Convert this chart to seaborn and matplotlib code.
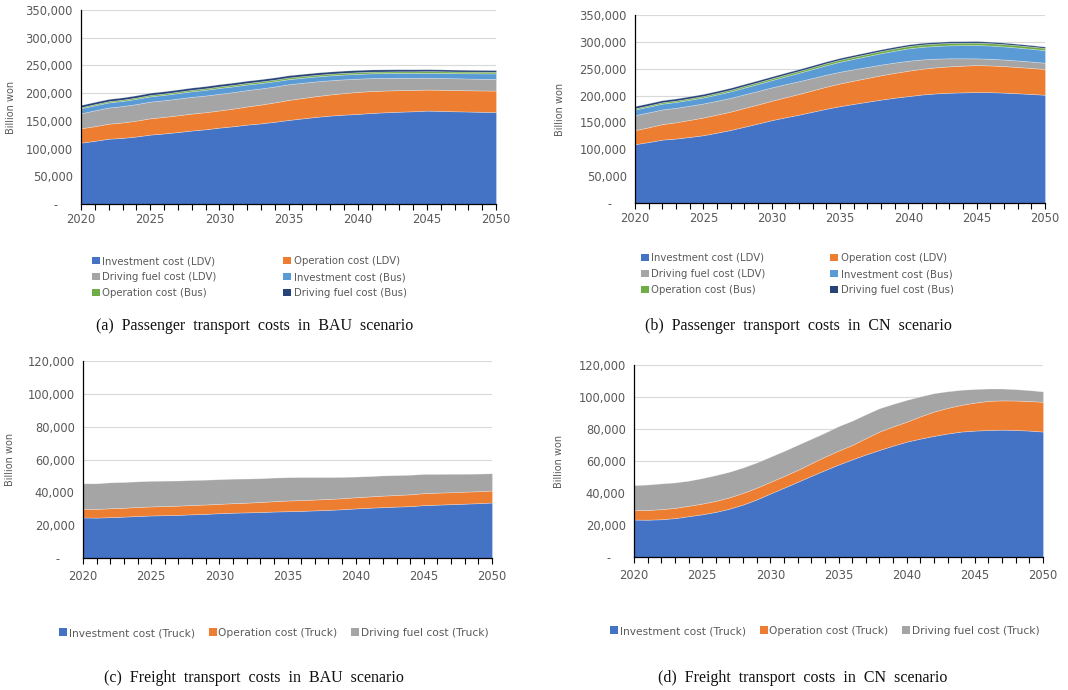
import numpy as np
import matplotlib
matplotlib.use("Agg")
import matplotlib.pyplot as plt
from matplotlib.patches import Patch
from matplotlib.ticker import FuncFormatter, MultipleLocator
from matplotlib.transforms import blended_transform_factory
import seaborn as sns

# ---------------- data (thousand billion won) ----------------
years = list(range(2020, 2051))

# (a) Passenger transport costs, BAU
a_inv_ldv = [110.7, 114.0, 117.8, 119.3, 121.8, 125.2, 127.3, 129.8, 132.6, 134.8, 137.8, 140.3, 143.2, 145.5, 148.3, 151.6,
             154.4, 157.2, 159.5, 161.2, 162.5, 164.3, 165.5, 166.5, 167.3, 168.5, 168.0, 167.3, 166.8, 166.3, 166.0]
a_op_ldv = [25.9, 26.5, 27.1, 27.8, 28.6, 29.4, 29.8, 30.2, 30.5, 30.8, 31.0, 31.8, 32.8, 33.9, 35.0, 36.1,
            36.8, 37.4, 38.1, 38.9, 39.7, 39.5, 39.2, 38.9, 38.5, 37.9, 38.1, 38.3, 38.4, 38.5, 38.6]
a_fuel_ldv = [27.1, 28.5, 29.2, 29.6, 29.9, 30.1, 30.1, 30.1, 30.2, 30.1, 30.1, 29.8, 29.5, 29.1, 28.7, 28.3,
              27.5, 26.6, 25.6, 24.8, 24.0, 23.4, 22.8, 22.4, 21.9, 21.5, 21.4, 21.3, 21.2, 21.1, 21.0]
a_inv_bus = [9.0, 9.1, 9.2, 9.3, 9.4, 9.5, 9.7, 9.9, 10.1, 10.3, 10.5, 10.3, 10.1, 9.8, 9.5, 9.2,
             9.0, 8.9, 8.8, 8.7, 8.6, 8.6, 8.6, 8.6, 8.7, 8.8, 9.0, 9.2, 9.5, 9.8, 10.0]
a_op_bus = [2.0, 2.1, 2.2, 2.3, 2.4, 2.5, 2.5, 2.6, 2.6, 2.7, 2.7, 2.8, 2.8, 2.9, 2.9, 3.0,
            3.0, 3.0, 3.0, 3.0, 3.0, 3.0, 3.0, 3.0, 3.0, 3.0, 3.0, 3.0, 3.0, 3.0, 3.0]
a_fuel_bus = [4.0, 4.0, 4.0, 4.0, 4.0, 4.0, 4.0, 4.0, 4.0, 4.0, 4.0, 4.0, 4.0, 4.0, 4.0, 4.0,
              4.0, 4.0, 4.0, 4.0, 4.0, 3.9, 3.8, 3.7, 3.6, 3.5, 3.4, 3.3, 3.2, 3.1, 3.0]

# (b) Passenger transport costs, CN
b_inv_ldv = [109.5, 113.5, 118.0, 120.0, 123.0, 126.2, 131.0, 136.0, 142.0, 148.0, 154.2, 159.5, 164.5, 170.0, 175.5, 180.3,
             184.5, 188.5, 192.5, 196.0, 199.0, 202.0, 204.0, 205.3, 206.0, 206.5, 206.3, 205.5, 204.3, 203.0, 201.5]
b_op_ldv = [26.1, 27.5, 28.9, 30.3, 31.7, 33.0, 33.6, 34.2, 34.9, 35.5, 36.1, 37.3, 38.6, 39.8, 41.1, 42.3,
            43.3, 44.3, 45.3, 46.3, 47.3, 47.9, 48.5, 49.1, 49.7, 50.3, 49.8, 49.4, 48.9, 48.4, 47.9]
b_fuel_ldv = [28.0, 27.8, 27.3, 26.9, 26.5, 26.1, 25.9, 25.6, 25.4, 25.1, 24.9, 24.3, 23.7, 23.0, 22.4, 21.8,
              21.2, 20.5, 19.9, 19.2, 18.6, 17.4, 16.2, 15.0, 13.7, 12.5, 12.4, 12.2, 12.1, 11.9, 11.8]
b_inv_bus = [10.5, 10.6, 10.8, 10.9, 11.0, 11.2, 11.6, 12.1, 12.6, 13.1, 13.6, 14.6, 15.6, 16.6, 17.6, 18.6,
             19.5, 20.4, 21.2, 22.1, 23.0, 23.4, 23.8, 24.2, 24.5, 24.9, 24.7, 24.4, 24.1, 23.8, 23.4]
b_op_bus = [2.3, 2.4, 2.5, 2.6, 2.7, 2.8, 2.9, 3.0, 3.1, 3.2, 3.3, 3.4, 3.5, 3.6, 3.7, 3.8,
            3.9, 4.0, 4.1, 4.2, 4.3, 4.4, 4.4, 4.5, 4.5, 4.5, 4.4, 4.4, 4.3, 4.2, 4.1]
b_fuel_bus = [4.0, 4.0, 3.9, 3.9, 3.8, 3.8, 3.7, 3.7, 3.6, 3.6, 3.5, 3.5, 3.4, 3.4, 3.3, 3.3,
              3.2, 3.2, 3.1, 3.1, 3.0, 3.0, 2.9, 2.9, 2.8, 2.8, 2.7, 2.7, 2.6, 2.6, 2.5]

# (c) Freight transport costs, BAU
c_inv_truck = [24.7, 24.6, 24.9, 25.2, 25.6, 25.9, 26.1, 26.3, 26.6, 26.9, 27.3, 27.6, 27.8, 28.0, 28.3, 28.5,
               28.7, 29.0, 29.3, 29.7, 30.2, 30.6, 31.0, 31.3, 31.6, 32.2, 32.5, 32.8, 33.1, 33.4, 33.8]
c_op_truck = [5.3, 5.3, 5.4, 5.4, 5.5, 5.5, 5.6, 5.6, 5.7, 5.7, 5.7, 5.8, 5.9, 6.1, 6.3, 6.5,
              6.6, 6.6, 6.7, 6.7, 6.8, 6.9, 7.0, 7.1, 7.2, 7.3, 7.3, 7.3, 7.3, 7.3, 7.3]
c_fuel_truck = [15.5, 15.6, 15.8, 15.7, 15.6, 15.6, 15.4, 15.3, 15.2, 15.1, 15.0, 14.9, 14.7, 14.5, 14.4, 14.2,
                14.0, 13.7, 13.3, 13.0, 12.6, 12.4, 12.3, 12.1, 11.9, 11.7, 11.4, 11.2, 10.9, 10.7, 10.5]

# (d) Freight transport costs, CN
d_inv_truck = [23.4, 23.3, 23.6, 24.3, 25.5, 26.7, 28.2, 30.2, 32.8, 36.0, 39.7, 43.3, 47.0, 50.7, 54.3, 57.8,
               61.0, 64.1, 66.9, 69.6, 72.1, 74.0, 75.7, 77.2, 78.4, 79.0, 79.4, 79.6, 79.4, 79.0, 78.4]
d_op_truck = [5.9, 6.1, 6.3, 6.4, 6.5, 6.7, 6.9, 7.1, 7.3, 7.3, 7.3, 7.3, 7.4, 7.9, 8.4, 8.7,
              9.0, 10.2, 11.5, 12.0, 12.5, 13.9, 15.2, 16.0, 16.7, 17.5, 18.2, 18.3, 18.4, 18.5, 18.6]
d_fuel_truck = [15.6, 15.9, 16.1, 15.9, 15.7, 15.9, 16.1, 16.0, 15.9, 15.8, 15.7, 15.7, 15.7, 15.3, 15.0, 15.3,
                15.2, 14.9, 14.6, 14.1, 13.6, 12.5, 11.5, 10.4, 9.4, 8.5, 7.7, 7.4, 7.1, 6.8, 6.5]

pass_labels = ["Investment cost (LDV)", "Operation cost (LDV)", "Driving fuel cost (LDV)",
               "Investment cost (Bus)", "Operation cost (Bus)", "Driving fuel cost (Bus)"]
freight_labels = ["Investment cost (Truck)", "Operation cost (Truck)", "Driving fuel cost (Truck)"]
captions = ["(a)  Passenger  transport  costs  in  BAU  scenario",
            "(b)  Passenger  transport  costs  in  CN  scenario",
            "(c)  Freight  transport  costs  in  BAU  scenario",
            "(d)  Freight  transport  costs  in  CN  scenario"]
y_label = "Billion won"

# ---------------- style ----------------
sns.set_theme(style="white")
plt.rcParams["font.family"] = ["DejaVu Sans"]
palette = sns.color_palette(["#4472C4", "#ED7D31", "#A5A5A5", "#5B9BD5", "#70AD47", "#264478"])
tick_color = "#595959"

fig = plt.figure(figsize=(10.68, 6.90), dpi=100)
W, H = 1068, 690


def ax_rect(x0, x1, ytop, ybot):
    return [x0 / W, 1 - ybot / H, (x1 - x0) / W, (ybot - ytop) / H]


def fmt(v, pos):
    if v == 0:
        return "-    "
    return f"{int(round(v)):,}"


def style_axis(ax, ymax, ystep, xpad):
    ax.set_xlim(2020, 2050)
    ax.set_ylim(0, ymax)
    ax.yaxis.set_major_locator(MultipleLocator(ystep))
    ax.yaxis.set_major_formatter(FuncFormatter(fmt))
    ax.xaxis.set_major_locator(MultipleLocator(5))
    ax.xaxis.set_minor_locator(MultipleLocator(1))
    ax.grid(axis="y", color="#D9D9D9", lw=0.8)
    ax.set_axisbelow(True)
    for s in ["top", "right"]:
        ax.spines[s].set_visible(False)
    for s in ["left", "bottom"]:
        ax.spines[s].set_color("black")
        ax.spines[s].set_linewidth(0.9)
    ax.tick_params(axis="y", which="both", length=0, labelsize=8.3, colors=tick_color, pad=6)
    ax.tick_params(axis="x", which="both", length=4, width=0.8, color="black", direction="out",
                   labelsize=8.3, labelcolor=tick_color, pad=xpad, bottom=True)
    ax.set_ylabel(y_label, fontsize=7, color=tick_color)


def draw(ax, series, n):
    ys = [np.array(s) * 1000 for s in series]
    ax.stackplot(years, *ys, colors=palette[:n], edgecolor=(1, 1, 1, 0.35), linewidth=0.5)


rects = [ax_rect(81, 496, 10, 204), ax_rect(635, 1045, 15, 203),
         ax_rect(83, 492, 361, 558), ax_rect(634, 1043, 365, 557)]
axes = [fig.add_axes(r) for r in rects]

draw(axes[0], [a_inv_ldv, a_op_ldv, a_fuel_ldv, a_inv_bus, a_op_bus, a_fuel_bus], 6)
draw(axes[1], [b_inv_ldv, b_op_ldv, b_fuel_ldv, b_inv_bus, b_op_bus, b_fuel_bus], 6)
draw(axes[2], [c_inv_truck, c_op_truck, c_fuel_truck], 3)
draw(axes[3], [d_inv_truck, d_op_truck, d_fuel_truck], 3)

for i, ax in enumerate(axes):
    if i < 2:
        style_axis(ax, 350000, 50000, 2.5)
    else:
        style_axis(ax, 120000, 20000, 4.5)

# y-label positions (x in figure px, y centred on axes)
ylab_x = [11, 560, 10, 559]
for ax, xp in zip(axes, ylab_x):
    tr = blended_transform_factory(fig.transFigure, ax.transAxes)
    ax.yaxis.set_label_coords(xp / W, 0.5, transform=tr)
    ax.yaxis.label.set_verticalalignment("center")

# legends
pass_handles = [Patch(facecolor=palette[i], edgecolor="none") for i in range(6)]
order = [0, 2, 4, 1, 3, 5]
leg_kw = dict(frameon=False, handlelength=0.75, handleheight=0.75,
              borderpad=0, borderaxespad=0, labelcolor=tick_color)
for ax, (xp, yp), cs in zip(axes[:2], [(92, 256), (641, 253)], [6.6, 6.4]):
    ax.legend([pass_handles[k] for k in order], [pass_labels[k] for k in order], ncol=2,
              loc="upper left", bbox_to_anchor=(xp / W, 1 - yp / H), bbox_transform=fig.transFigure,
              columnspacing=cs, labelspacing=0.6, fontsize=7.3, handletextpad=0.25, **leg_kw)

fr_handles = [Patch(facecolor=palette[i], edgecolor="none") for i in range(3)]
for ax, (xp, yc) in zip(axes[2:], [(59, 633), (610, 631)]):
    ax.legend(fr_handles, freight_labels, ncol=3, loc="center left",
              bbox_to_anchor=(xp / W, 1 - yc / H), bbox_transform=fig.transFigure,
              columnspacing=1.3, fontsize=7.7, handletextpad=0.15, **leg_kw)

# captions
cap_pos = [(255, 326), (798, 326), (254, 678), (803, 678)]
for (xc, yc), txt in zip(cap_pos, captions):
    fig.text(xc / W, 1 - yc / H, txt, ha="center", va="center", fontsize=11.5,
             family=["Liberation Serif", "DejaVu Serif"], color="#111111")

fig.savefig("out.png", dpi=100)
